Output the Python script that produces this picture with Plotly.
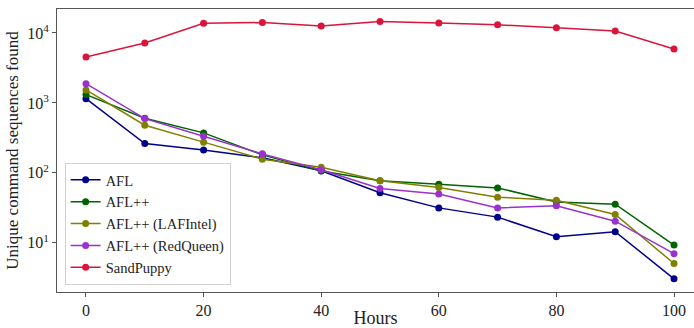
import plotly.graph_objects as go

hours = [0, 10, 20, 30, 40, 50, 60, 70, 80, 90, 100]
afl = [1150, 262, 213, 164, 107, 52, 31.6, 23.3, 12.2, 14.4, 3.06]
aflpp = [1315, 604, 373, 181, 106, 77, 69, 61, 38.5, 35.7, 9.3]
laf = [1534, 480, 275, 157, 120, 77, 61.6, 45, 40.7, 25.4, 5.06]
redq = [1888, 597, 334, 187, 111, 60, 50, 31.6, 33.8, 20.4, 7.0]
sandpuppy = [4540, 7200, 13800, 14100, 12600, 14600, 13900, 13100, 11900, 10700, 5900]

y_tickvals = [10, 100, 1000, 10000]
y_ticktext = ["10<sup>1</sup>", "10<sup>2</sup>", "10<sup>3</sup>", "10<sup>4</sup>"]
x_tickvals = [0, 20, 40, 60, 80, 100]

series = [
    ("AFL", afl, "#00008B"),
    ("AFL++", aflpp, "#006400"),
    ("AFL++ (LAFIntel)", laf, "#808000"),
    ("AFL++ (RedQueen)", redq, "#9932CC"),
    ("SandPuppy", sandpuppy, "#DC143C"),
]

fig = go.Figure()
for name, vals, col in series:
    fig.add_trace(go.Scatter(
        x=hours, y=vals, name=name, mode="lines+markers",
        line=dict(color=col, width=1.5),
        marker=dict(color=col, size=7),
    ))

ff = "Liberation Serif, serif"
fig.update_layout(
    width=694, height=328,
    margin=dict(l=57, r=0, t=9, b=36),
    paper_bgcolor="white", plot_bgcolor="white",
    font=dict(family=ff, size=16, color="#222"),
    showlegend=True,
    legend=dict(
        x=0.012, y=0.025, xanchor="left", yanchor="bottom",
        bgcolor="rgba(255,255,255,0.8)", bordercolor="#d0d0d0", borderwidth=1,
        font=dict(family=ff, size=14.5, color="#222"),
        tracegroupgap=0, itemwidth=30,
    ),
    xaxis=dict(
        range=[-4.93, 103.4],
        tickvals=x_tickvals,
        showgrid=False, zeroline=False, automargin=False,
        showline=True, linecolor="#555", linewidth=1, mirror=True,
        ticks="outside", ticklen=4, tickcolor="#555",
        title=dict(text="Hours", font=dict(family=ff, size=18), standoff=6),
        tickfont=dict(family=ff, size=16),
    ),
    yaxis=dict(
        type="log",
        range=[0.297, 4.343],
        tickvals=y_tickvals, ticktext=y_ticktext,
        showgrid=False, zeroline=False, automargin=False,
        showline=True, linecolor="#555", linewidth=1,
        ticks="outside", ticklen=4, tickcolor="#555",
        title=dict(text="Unique command sequences found", font=dict(family=ff, size=17), standoff=4),
        tickfont=dict(family=ff, size=16),
    ),
)

fig.write_html(
    "out.html",
    config={"displayModeBar": False},
    post_script="document.body.style.margin='0';document.body.style.overflow='hidden';",
)
